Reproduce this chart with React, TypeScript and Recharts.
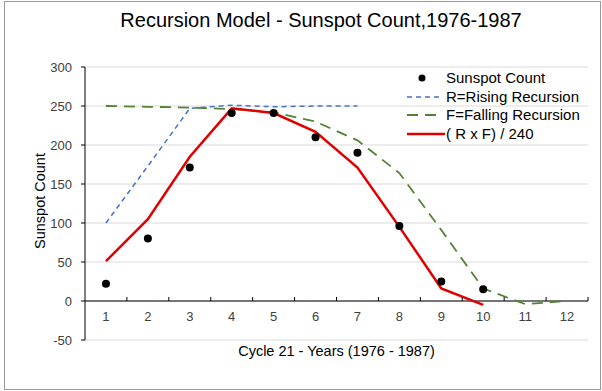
import { ComposedChart, Line, XAxis, YAxis, CartesianGrid, ReferenceLine } from "recharts";

/* Chart values */
const years = ["1", "2", "3", "4", "5", "6", "7", "8", "9", "10", "11", "12"];
const sunspotCount = [22, 80, 171, 241, 241, 210, 190, 96, 25, 15, null, null];
const risingRecursion = [100, 173, 247, 251, 249, 250, 250, null, null, null, null, null];
const fallingRecursion = [250, 249, 248, 246, 242, 230, 206, 164, 91, 16, -4, 0];
const combined = [51, 105, 185, 247, 241, 217, 171, 95, 16, -5, null, null];
const yTicks = [-50, 0, 50, 100, 150, 200, 250, 300];

const data = years.map((year, i) => ({
  year,
  sunspot: sunspotCount[i],
  rising: risingRecursion[i],
  falling: fallingRecursion[i],
  combined: combined[i],
}));

const FONT = "'Liberation Sans', Arial, sans-serif";

/* plot box geometry, used to place the x tick labels on the zero line */
const PLOT_TOP = 67;
const PLOT_H = 273;
const PLOT_LEFT = 85;
const PLOT_W = 503;
const Y_MIN = -50;
const Y_MAX = 300;
const zeroY = PLOT_TOP + (PLOT_H * Y_MAX) / (Y_MAX - Y_MIN);
const band = PLOT_W / years.length;

function XTick(props: any) {
  const { x, payload } = props;
  return (
    <g>
      <line x1={x + band / 2} x2={x + band / 2} y1={zeroY} y2={zeroY - 4} stroke="#000" strokeWidth={1} />
      <text x={x} y={zeroY + 20} textAnchor="middle" fontSize={13} fill="#404040" fontFamily={FONT}>
        {payload.value}
      </text>
    </g>
  );
}

/* legend rows: symbol + label */
function LegendBox() {
  const rows = [
    { label: "Sunspot Count", kind: "dot" },
    { label: "R=Rising Recursion", kind: "rising" },
    { label: "F=Falling Recursion", kind: "falling" },
    { label: "( R x F) / 240", kind: "combined" },
  ];
  return (
    <div style={{ fontFamily: FONT, fontSize: 15, color: "#000" }}>
      {rows.map((r) => (
        <div key={r.label} style={{ display: "flex", alignItems: "center", height: 18.6 }}>
          <svg width={40} height={12} style={{ marginRight: 1 }}>
            {r.kind === "dot" && <circle cx={17} cy={6} r={3.5} fill="#000" />}
            {r.kind === "rising" && <line x1={2} x2={34} y1={6} y2={6} stroke="#4472C4" strokeWidth={1.5} strokeDasharray="5 4" />}
            {r.kind === "falling" && <line x1={2} x2={38} y1={6} y2={6} stroke="#548235" strokeWidth={1.8} strokeDasharray="11 7" />}
            {r.kind === "combined" && <line x1={2} x2={40} y1={6} y2={6} stroke="#E00000" strokeWidth={2.5} />}
          </svg>
          <span style={{ lineHeight: "18px" }}>{r.label}</span>
        </div>
      ))}
    </div>
  );
}

export default function App() {
  return (
    <div style={{ position: "fixed", left: 0, top: 0, width: 602, height: 391, background: "#fff", fontFamily: FONT }}>
      <div style={{ position: "absolute", left: 4, top: 1, width: 595, height: 387, border: "1px solid #999" }} />

      <div style={{ position: "absolute", left: 0, width: 642, top: 9, textAlign: "center", fontSize: 20, color: "#000" }}>
        Recursion Model - Sunspot Count,1976-1987
      </div>

      <div
        style={{
          position: "absolute",
          left: 40,
          top: 201,
          transform: "translate(-50%, -50%) rotate(-90deg)",
          whiteSpace: "nowrap",
          fontSize: 14.5,
          color: "#000",
        }}
      >
        Sunspot Count
      </div>

      <div style={{ position: "absolute", left: PLOT_LEFT, width: PLOT_W, top: 343, textAlign: "center", fontSize: 14.5, color: "#000" }}>
        Cycle 21 - Years (1976 - 1987)
      </div>

      <div style={{ position: "absolute", left: 0, top: 0 }}>
        <ComposedChart width={602} height={391} data={data} margin={{ top: PLOT_TOP, right: 602 - PLOT_LEFT - PLOT_W, left: 0, bottom: 0 }}>
          <CartesianGrid vertical={false} stroke="#d9d9d9" strokeWidth={1} />
          <XAxis
            dataKey="year"
            axisLine={false}
            tickLine={false}
            tick={<XTick />}
            height={391 - PLOT_TOP - PLOT_H}
            interval={0}
            padding={{ left: band / 2, right: band / 2 }}
          />
          <YAxis
            width={PLOT_LEFT}
            domain={[Y_MIN, Y_MAX]}
            ticks={yTicks}
            interval={0}
            axisLine={{ stroke: "#000" }}
            tickLine={{ stroke: "#000" }}
            tickSize={4}
            tickMargin={9}
            tick={{ fontSize: 13, fill: "#404040", fontFamily: FONT }}
          />
          <ReferenceLine y={0} stroke="#000" strokeWidth={1} />
          <Line dataKey="rising" stroke="#4472C4" strokeWidth={1.5} strokeDasharray="5 4" dot={false} isAnimationActive={false} />
          <Line dataKey="falling" stroke="#548235" strokeWidth={1.8} strokeDasharray="11 7" dot={false} isAnimationActive={false} />
          <Line dataKey="combined" stroke="#E00000" strokeWidth={2.5} dot={false} isAnimationActive={false} />
          <Line dataKey="sunspot" stroke="none" dot={{ r: 4, fill: "#000", stroke: "none" }} activeDot={false} isAnimationActive={false} />
        </ComposedChart>
      </div>

      <div style={{ position: "absolute", left: 405, top: 69 }}>
        <LegendBox />
      </div>
    </div>
  );
}
